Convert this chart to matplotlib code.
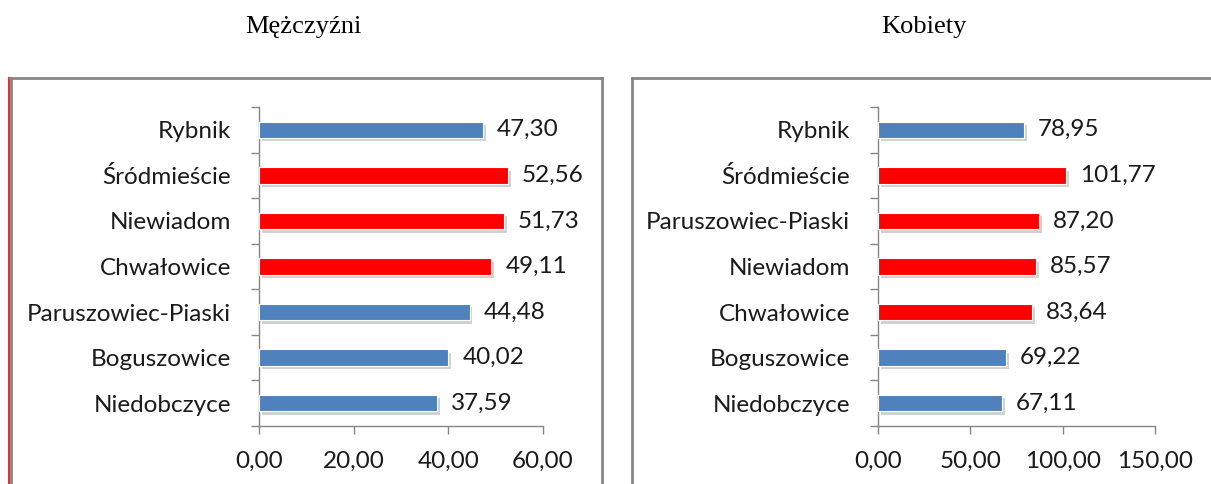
import matplotlib
matplotlib.use("Agg")
import matplotlib.pyplot as plt
from matplotlib.lines import Line2D
import matplotlib.patheffects as pe

# Data
men_categories = ["Rybnik", "Śródmieście", "Niewiadom", "Chwałowice",
                  "Paruszowiec-Piaski", "Boguszowice", "Niedobczyce"]
men_values = [47.30, 52.56, 51.73, 49.11, 44.48, 40.02, 37.59]
men_highlight = [False, True, True, True, False, False, False]

women_categories = ["Rybnik", "Śródmieście", "Paruszowiec-Piaski", "Niewiadom",
                    "Chwałowice", "Boguszowice", "Niedobczyce"]
women_values = [78.95, 101.77, 87.20, 85.57, 83.64, 69.22, 67.11]
women_highlight = [False, True, True, True, True, False, False]

men_ticks = [0, 20, 40, 60]
women_ticks = [0, 50, 100, 150]

titles = ["Mężczyźni", "Kobiety"]

BLUE = "#4F81BD"
RED = "#FF0000"
GRAY = "#868686"

W, H = 1211, 484
fig = plt.figure(figsize=(W / 100, H / 100), dpi=100)
fig.patch.set_facecolor("white")

LABEL_FONT = "Lato"
FS = 17.5


def px(x0, y0, x1, y1):
    # pixel box (top-left origin) -> figure fraction rect
    return [x0 / W, 1 - y1 / H, (x1 - x0) / W, (y1 - y0) / H]


def draw(ax, cats, vals, hl, ticks):
    n = len(cats)
    ypos = list(range(n))[::-1]
    colors = [RED if h else BLUE for h in hl]
    bars = ax.barh(ypos, vals, height=0.36, color=colors, edgecolor="white",
                   linewidth=0.8, zorder=3)
    for b in bars:
        b.set_path_effects([pe.SimplePatchShadow(offset=(2, -2.5),
                                                 shadow_rgbFace="#9a9a9a",
                                                 alpha=0.45),
                            pe.Normal()])
    ax.set_xlim(ticks[0], ticks[-1])
    ax.set_ylim(-0.5, n - 0.5)
    ax.set_xticks(ticks)
    ax.set_xticklabels([f"{t:.2f}".replace(".", ",") for t in ticks],
                       fontsize=FS, family=LABEL_FONT, color="#1a1a1a")
    ax.set_yticks(ypos)
    ax.set_yticklabels(cats, fontsize=FS, family=LABEL_FONT, color="#1a1a1a")
    ax.set_yticks([i - 0.5 for i in range(n + 1)], minor=True)
    ax.tick_params(axis="y", which="major", length=0, pad=20)
    ax.tick_params(axis="y", which="minor", length=6, color=GRAY, width=1)
    ax.tick_params(axis="x", which="major", length=6, color=GRAY, width=1, pad=12)
    for s in ["top", "right"]:
        ax.spines[s].set_visible(False)
    for s in ["left", "bottom"]:
        ax.spines[s].set_color(GRAY)
        ax.spines[s].set_linewidth(1)
    ax.set_facecolor("none")
    span = ticks[-1] - ticks[0]
    for y, v in zip(ypos, vals):
        ax.text(v + span * 0.05, y, f"{v:.2f}".replace(".", ","),
                va="center", ha="left", fontsize=FS, family=LABEL_FONT,
                color="#1a1a1a")


ax1 = fig.add_axes(px(259, 107, 543, 426))
draw(ax1, men_categories, men_values, men_highlight, men_ticks)

ax2 = fig.add_axes(px(878, 107, 1155, 426))
draw(ax2, women_categories, women_values, women_highlight, women_ticks)

# Frames around charts
top = 1 - 78 / H
fig.add_artist(Line2D([11 / W, 11 / W], [top, 0], transform=fig.transFigure,
                      color=GRAY, lw=2))
fig.add_artist(Line2D([9 / W, 9 / W], [top, 0], transform=fig.transFigure,
                      color="#e03030", lw=1.5))
fig.add_artist(Line2D([10 / W, 602 / W], [top, top],
                      transform=fig.transFigure, color=GRAY, lw=2))
fig.add_artist(Line2D([602 / W, 602 / W], [top, 0],
                      transform=fig.transFigure, color=GRAY, lw=2))
fig.add_artist(Line2D([632 / W, 632 / W], [top, 0],
                      transform=fig.transFigure, color=GRAY, lw=2))
fig.add_artist(Line2D([632 / W, 1], [top, top],
                      transform=fig.transFigure, color=GRAY, lw=2))

# Titles
fig.text(303 / W, 1 - 27 / H, titles[0], ha="center", va="center",
         fontsize=19, family="Liberation Serif")
fig.text(924 / W, 1 - 27 / H, titles[1], ha="center", va="center",
         fontsize=19, family="Liberation Serif")

fig.savefig("out.png", dpi=100)
